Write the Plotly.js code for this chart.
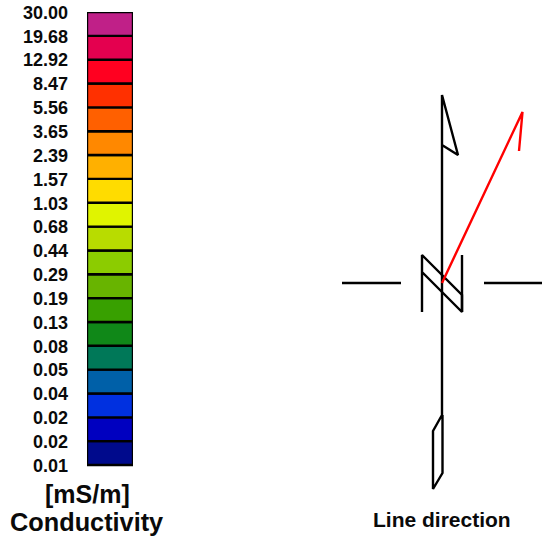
<!DOCTYPE html>
<html><head><meta charset="utf-8">
<script src="https://cdn.plot.ly/plotly-3.0.1.min.js"></script>
<style>html,body{margin:0;padding:0;background:#fff}#c{width:556px;height:541px}</style>
</head><body><div id="c"></div>
<script>
// Colour scale, bottom to top
const tickLabels = ["0.01","0.02","0.02","0.04","0.05","0.08","0.13","0.19","0.29","0.44","0.68","1.03","1.57","2.39","3.65","5.56","8.47","12.92","19.68","30.00"];
const classColors = ["#000a8c","#0000c0","#0030e0","#0060a8","#007858","#108818","#38a000","#68b400","#8ccc00","#b8dc00","#e0f400","#ffdc00","#ffb000","#ff8800","#ff6000","#ff3000","#ff0020","#e4004f","#c02088"];
const classSpan = classColors.map(() => 1);

// Line-direction symbol
const axisX = [442,442,458,442,442,433,433,442.5,442.5];
const axisY = [145,95,155,145,415,431,489,473,415];
const markX = [422,422,462,462,422];
const markY = [312,255,295,312,272];
const markRightX = [462,462];
const markRightY = [312,255];
const westX = [342,401];
const westY = [283,283];
const eastX = [484,542];
const eastY = [283,283];
const directionX = [442,522.5,519];
const directionY = [283,112,151];

const W = 556, H = 541;
const blackLine = {color:"#000",width:2.4};
const sym = (x,y,line) => ({type:"scatter",mode:"lines",x,y,line,xaxis:"x2",yaxis:"y2",hoverinfo:"skip",showlegend:false});

const traces = [
  {type:"bar",x:classSpan.map(()=>"c"),y:classSpan,width:1,marker:{color:classColors,line:{color:"#000",width:2.4}},cliponaxis:false,showlegend:false,hoverinfo:"skip"},
  sym(axisX,axisY,blackLine),
  sym(markX,markY,blackLine),
  sym(markRightX,markRightY,blackLine),
  sym(westX,westY,blackLine),
  sym(eastX,eastY,blackLine),
  sym(directionX,directionY,{color:"#f00",width:2.4})
];
const note = (text,x,y,size) => ({text:"<b>"+text+"</b>",xref:"paper",yref:"paper",x:x/W,y:1-y/H,xanchor:"center",yanchor:"middle",showarrow:false,font:{family:"Liberation Sans",size,color:"#0a0a0a"}});
const layout = {
  width:W,height:H,showlegend:false,barmode:"stack",paper_bgcolor:"#fff",plot_bgcolor:"#fff",
  margin:{l:0,r:0,t:0,b:0},
  annotations:[note("[mS/m]",87,494,25),note("Conductivity",86.5,522,25.3),note("Line direction",442,519,21)],
  xaxis:{domain:[87/W,133/W],type:"category",showgrid:false,zeroline:false,showline:false,ticks:"",showticklabels:false},
  yaxis:{domain:[1-467.4/H,1-12/H],range:[-0.1,19],tickmode:"array",tickvals:tickLabels.map((_,i)=>i-0.02),ticktext:tickLabels.map(t=>"<b>"+t+"</b>"),
    showgrid:false,zeroline:false,showline:false,ticks:"",ticklabelstandoff:18,tickfont:{family:"Liberation Sans",size:18,color:"#0a0a0a"},automargin:false},
  xaxis2:{domain:[330/W,1],range:[330,556],anchor:"y2",showgrid:false,zeroline:false,showline:false,ticks:"",showticklabels:false},
  yaxis2:{domain:[1-500/H,1-80/H],range:[500,80],anchor:"x2",showgrid:false,zeroline:false,showline:false,ticks:"",showticklabels:false}
};
Plotly.newPlot("c",traces,layout,{displayModeBar:false,staticPlot:true});
</script></body></html>
